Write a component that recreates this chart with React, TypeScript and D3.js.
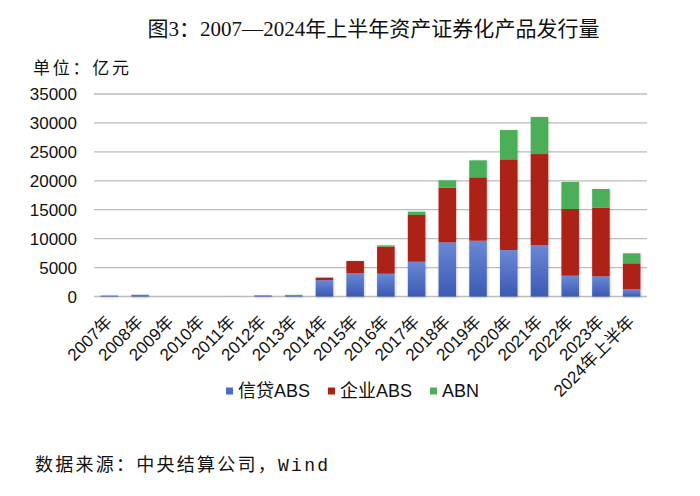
import * as d3 from "d3";

// ---------------------------------------------------------------------------
// Data (亿元)
// ---------------------------------------------------------------------------

const CATEGORIES = [
  "2007年", "2008年", "2009年", "2010年", "2011年", "2012年", "2013年", "2014年", "2015年",
  "2016年", "2017年", "2018年", "2019年", "2020年", "2021年", "2022年", "2023年", "2024年上半年",
];
const CREDIT_ABS = [178, 302, 0, 0, 13, 193, 158, 2830, 4060, 3940, 6020, 9360, 9650, 8030, 8900, 3600, 3490, 1240];
const CORP_ABS = [0, 0, 0, 0, 0, 0, 80, 400, 2070, 4670, 8060, 9440, 10940, 15670, 15720, 11520, 11860, 4490];
const ABN = [0, 0, 0, 0, 0, 57, 40, 60, 0, 230, 580, 1270, 2940, 5070, 6400, 4670, 3230, 1730];
const SERIES_NAMES = ["信贷ABS", "企业ABS", "ABN"];
const Y_TICKS = [0, 5000, 10000, 15000, 20000, 25000, 30000, 35000];

// ---------------------------------------------------------------------------
// Style
// ---------------------------------------------------------------------------

const W = 700;
const H = 496;
const PLOT = { left: 94, right: 647, top: 94, bottom: 296.5 };
const COLORS = ["url(#blueGrad)", "#ad2016", "#4caf5a"];
const LEGEND_SWATCH = ["#4a6cc4", "#ad2016", "#4caf5a"];
const GRID = "#bdbdbd";
const SANS = "'Liberation Sans', 'Noto Sans CJK SC', sans-serif";
const SERIF = "'Liberation Serif', 'Noto Sans CJK SC', serif";

export default function App() {
  const rows = CATEGORIES.map((c, i) => ({
    cat: c,
    credit: CREDIT_ABS[i],
    corp: CORP_ABS[i],
    abn: ABN[i],
  }));
  const stack = d3.stack<(typeof rows)[number]>().keys(["credit", "corp", "abn"])(rows as any);

  const x = d3
    .scaleBand()
    .domain(CATEGORIES)
    .range([PLOT.left, PLOT.right])
    .paddingInner(0.43)
    .paddingOuter(0.215);
  const y = d3.scaleLinear().domain([0, 35000]).range([PLOT.bottom, PLOT.top]);

  const legendX = [226, 328, 430];

  return (
    <svg
      width={W}
      height={H}
      style={{ position: "absolute", left: 0, top: 0, background: "#fff" }}
    >
      <defs>
        <linearGradient id="blueGrad" x1="0" y1="0" x2="0" y2="1">
          <stop offset="0%" stopColor="#6a88d4" />
          <stop offset="100%" stopColor="#3a5ab3" />
        </linearGradient>
        <filter id="shadow" x="-20%" y="-5%" width="140%" height="110%">
          <feDropShadow dx="0.6" dy="0.6" stdDeviation="0.8" floodColor="#000" floodOpacity="0.25" />
        </filter>
      </defs>

      {/* Title */}
      <text
        x={373.5}
        y={36}
        textAnchor="middle"
        fontSize={21}
        fontFamily={SERIF}
        textLength={452}
        lengthAdjust="spacingAndGlyphs"
        fill="#111"
      >
        图3：2007—2024年上半年资产证券化产品发行量
      </text>

      {/* Unit */}
      <text x={33} y={74} fontSize={17} fontFamily={SANS} textLength={96} fill="#111">
        单位：亿元
      </text>

      {/* Gridlines + y labels */}
      {Y_TICKS.map((t) => (
        <g key={t}>
          <line x1={PLOT.left} x2={PLOT.right} y1={y(t)} y2={y(t)} stroke={GRID} strokeWidth={1.3} />
          <text
            x={77}
            y={y(t)}
            dy="0.36em"
            textAnchor="end"
            fontSize={17}
            fontFamily={SANS}
            fill="#111"
          >
            {t}
          </text>
        </g>
      ))}

      {/* Bars */}
      <g filter="url(#shadow)">
        {stack.map((layer, si) =>
          layer.map((d, i) => {
            const h = y(d[0]) - y(d[1]);
            if (h <= 0) return null;
            return (
              <rect
                key={`${si}-${i}`}
                x={x(CATEGORIES[i])}
                y={y(d[1])}
                width={x.bandwidth()}
                height={h}
                fill={COLORS[si]}
              />
            );
          }),
        )}
      </g>

      {/* X labels */}
      {CATEGORIES.map((c) => (
        <text
          key={c}
          transform={`translate(${(x(c) ?? 0) + x.bandwidth() / 2 + 4},${323}) rotate(-45)`}
          textAnchor="end"
          fontSize={17}
          fontFamily={SANS}
          fill="#111"
        >
          {c}
        </text>
      ))}

      {/* Legend */}
      {SERIES_NAMES.map((n, i) => (
        <g key={n}>
          <rect x={legendX[i]} y={387.5} width={7} height={7} fill={LEGEND_SWATCH[i]} />
          <text x={legendX[i] + 12} y={391} dy="0.36em" fontSize={18} fontFamily={SANS} fill="#111">
            {n}
          </text>
        </g>
      ))}

      {/* Source */}
      <text
        x={35}
        y={471}
        fontSize={18}
        fontFamily={"'Liberation Mono', 'Noto Sans CJK SC', monospace"}
        textLength={293}
        lengthAdjust="spacing"
        fill="#111"
      >
        数据来源：中央结算公司，Wind
      </text>
    </svg>
  );
}
